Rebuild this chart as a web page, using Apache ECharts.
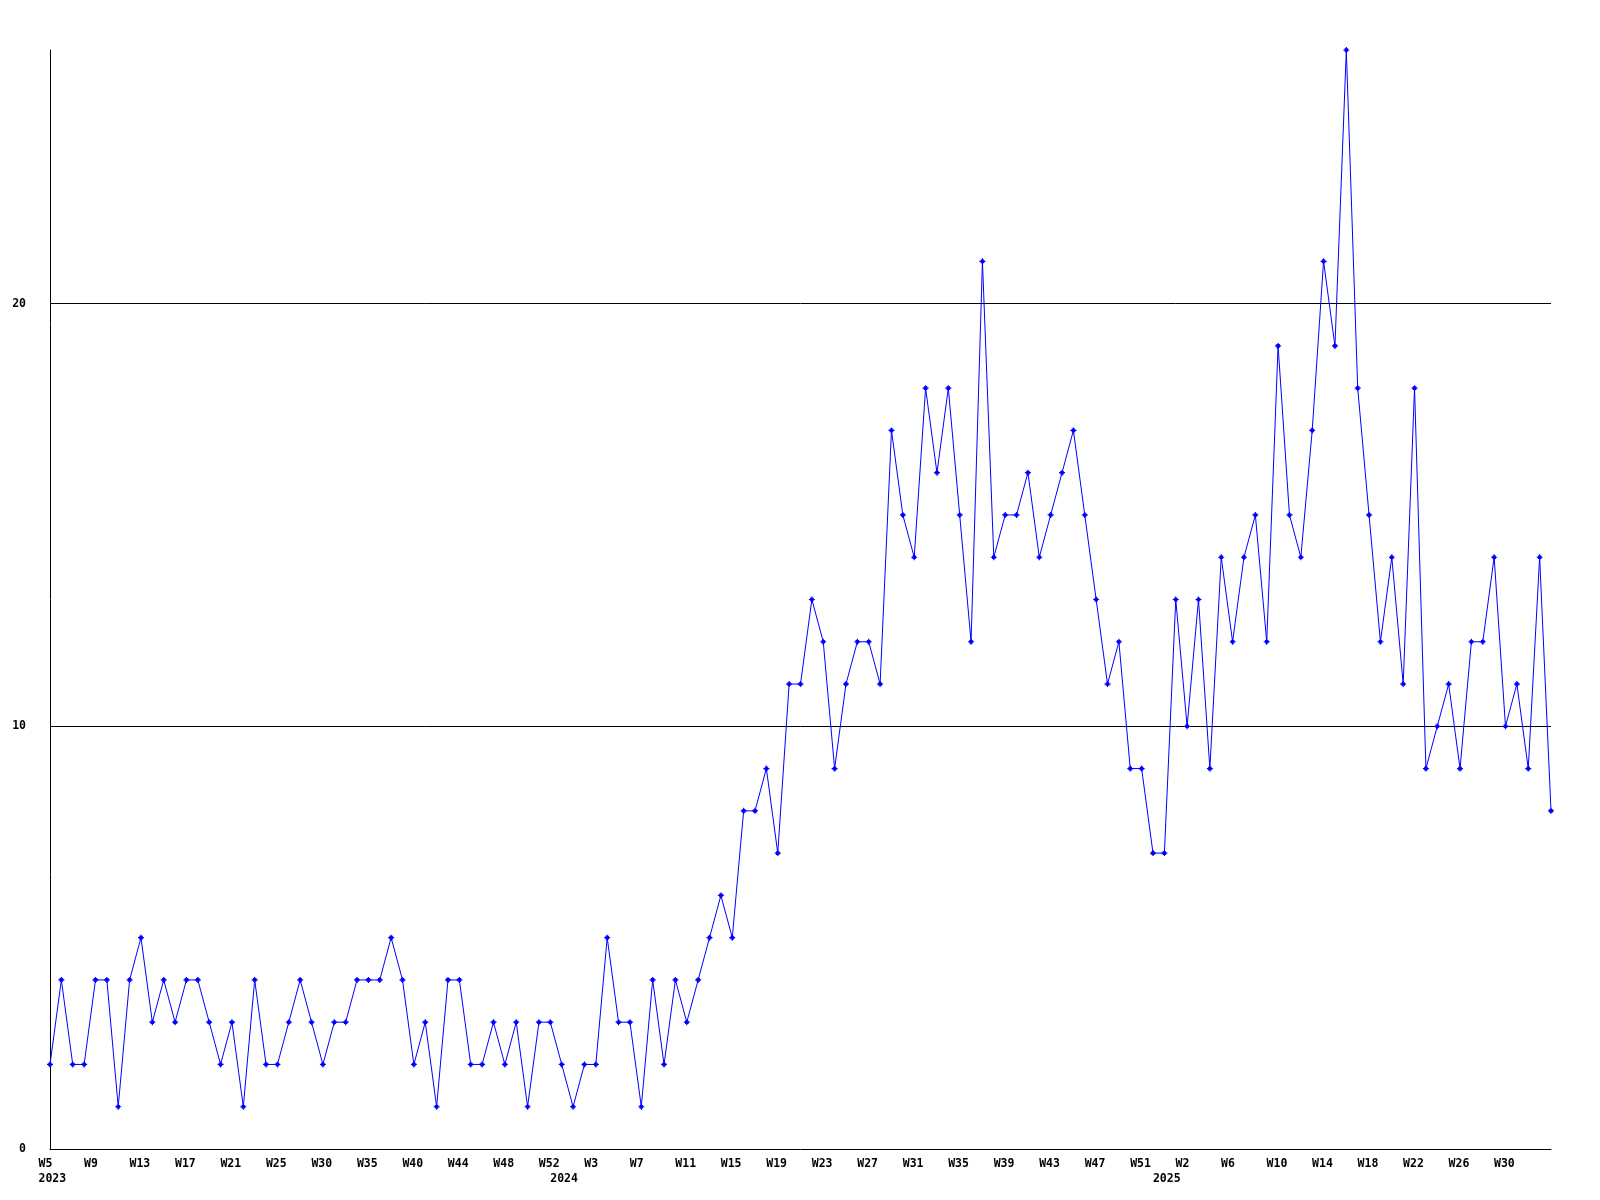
<!DOCTYPE html>
<html>
<head>
<meta charset="utf-8">
<script src="https://cdn.jsdelivr.net/npm/echarts@6/dist/echarts.min.js"></script>
<style>
html,body{margin:0;padding:0;background:#fff;}
#chart{width:1600px;height:1200px;}
</style>
</head>
<body>
<div id="chart"></div>
<script>
// Weekly values, 2023 W5 .. 2025 (133 points)
const values = [
  2,4,2,2,4,4,1,4,5,3,
  4,3,4,4,3,2,3,1,4,2,
  2,3,4,3,2,3,3,4,4,4,
  5,4,2,3,1,4,4,2,2,3,
  2,3,1,3,3,2,1,2,2,5,
  3,3,1,4,2,4,3,4,5,6,
  5,8,8,9,7,11,11,13,12,9,
  11,12,12,11,17,15,14,18,16,18,
  15,12,21,14,15,15,16,14,15,16,
  17,15,13,11,12,9,9,7,7,13,
  10,13,9,14,12,14,15,12,19,15,
  14,17,21,19,26,18,15,12,14,11,
  18,9,10,11,9,12,12,14,10,11,
  9,14,8
];
// Week tick labels, one for every 4th point
const tickLabels = ['W5','W9','W13','W17','W21','W25','W30','W35','W40','W44','W48','W52',
  'W3','W7','W11','W15','W19','W23','W27','W31','W35','W39','W43','W47','W51',
  'W2','W6','W10','W14','W18','W22','W26','W30'];
const yearLabels = ['2023','2024','2025'];
const yearStartIndex = [0,45,98];
const gridLines = [10,20];

const categories = values.map((v,i) => String(i));

const chart = echarts.init(document.getElementById('chart'), null, {renderer:'canvas'});
const font = {fontFamily:'DejaVu Sans Mono', fontWeight:'bold', fontSize:11.5, color:'#000'};

chart.setOption({
  backgroundColor:'#fff',
  animation:false,
  grid:{left:50, right:49, top:50, bottom:51, containLabel:false},
  xAxis:{
    type:'category',
    data:categories,
    boundaryGap:false,
    axisLine:{show:true, lineStyle:{color:'#000', width:1}},
    axisTick:{show:false},
    splitLine:{show:false},
    axisLabel:Object.assign({
      interval:0,
      margin:7,
      align:'left',
      lineHeight:15.5,
      padding:[0,0,0,-11.5],
      formatter:function(v, idx){
        const w = (idx % 4 === 0 && tickLabels[idx/4]) ? tickLabels[idx/4] : '';
        const yi = yearStartIndex.indexOf(idx);
        const y = yi >= 0 ? yearLabels[yi] : '';
        if (!w && !y) return '';
        return y ? (w + '\n' + y) : w;
      }
    }, font)
  },
  yAxis:{
    type:'value',
    min:0, max:26, interval:10,
    axisLine:{show:true, lineStyle:{color:'#000', width:1}},
    axisTick:{show:false},
    splitLine:{show:false},
    axisLabel:Object.assign({
      margin:24,
      formatter:function(v){ return (v % 10 === 0) ? String(v) : ''; }
    }, font)
  },
  series:[{
    type:'line',
    data:values,
    symbol:'path://M2,0H3V1H4V2H5V3H4V4H3V5H2V4H1V3H0V2H1V1H2Z',
    symbolSize:6,
    showSymbol:true,
    lineStyle:{color:'#0000ff', width:1},
    itemStyle:{color:'#0000ff', borderWidth:0},
    z:3,
    markLine:{
      silent:true,
      symbol:['none','none'],
      label:{show:false},
      lineStyle:{color:'#000', width:1, type:'solid'},
      data:gridLines.map(v => ({yAxis:v})),
      z:1
    }
  }]
});
</script>
</body>
</html>
